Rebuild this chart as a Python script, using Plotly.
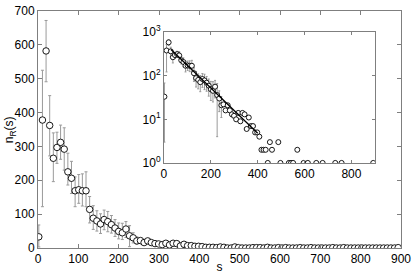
import plotly.graph_objects as go

s = [2, 11, 20, 29, 38, 47, 56, 65, 74, 83, 92, 101, 110, 119, 128, 137, 146, 155, 164, 173,
     182, 191, 200, 209, 218, 227, 236, 245, 254, 263, 272, 281, 290, 299, 308, 317, 326, 335, 344, 353,
     362, 371, 380, 389, 398, 407, 416, 425, 434, 443, 452, 461, 470, 479, 488, 497, 506, 515, 524, 533,
     542, 551, 560, 569, 578, 587, 596, 605, 614, 623, 632, 641, 650, 659, 668, 677, 686, 695, 704, 713,
     722, 731, 740, 749, 758, 767, 776, 785, 794, 803, 812, 821, 830, 839, 848, 857, 866, 875, 884, 893]
n = [33, 378, 582, 362, 265, 297, 312, 292, 225, 206, 169, 172, 169, 169, 114, 88, 80, 71, 84, 78,
     69, 59, 49, 45, 56, 36, 30, 21, 22, 16, 21, 16, 13, 12, 10, 14, 9, 14, 13, 6,
     11, 7, 7, 5, 5, 4, 2, 2, 2, 1, 3, 2, 0, 0, 3, 1, 0, 0, 0, 1,
     1, 1, 0, 2, 0, 0, 1, 0, 1, 0, 0, 0, 1, 0, 0, 1, 0, 0, 0, 0,
     0, 1, 0, 0, 1, 0, 0, 0, 0, 0, 0, 0, 0, 0, 0, 0, 0, 0, 0, 1]
err_plus = [35, 147, 90, 88, 75, 45, 51, 63, 55, 50, 41, 45, 50, 56, 38, 37, 30, 30, 28, 30,
            27, 25, 25, 28, 22, 30, 15, 12] + [0] * 72
err_minus = [30, 256, 91, 90, 69, 47, 50, 62, 39, 45, 47, 40, 45, 47, 40, 33, 30, 28, 30, 30,
             25, 25, 22, 20, 25, 32, 15, 10] + [0] * 72
fit_s = [30, 400]
fit_n = [400, 4.8]

x_ticks = [0, 100, 200, 300, 400, 500, 600, 700, 800, 900]
y_ticks = [0, 100, 200, 300, 400, 500, 600, 700]
inset_x_ticks = [0, 200, 400, 600, 800]
inset_y_ticks = [1, 10, 100, 1000]
inset_y_text = ["10<sup>0</sup>", "10<sup>1</sup>", "10<sup>2</sup>", "10<sup>3</sup>"]

font = dict(family="Liberation Sans, Arial, sans-serif", size=12, color="black")
axcol = "#7f7f7f"
errcol = "#9a9a9a"
marker = dict(symbol="circle", size=6.5, color="white", line=dict(color="black", width=0.9))

fig = go.Figure()
fig.add_trace(go.Scatter(
    x=s, y=n, mode="markers", marker=marker,
    error_y=dict(type="data", symmetric=False, array=err_plus, arrayminus=err_minus,
                 color=errcol, thickness=1, width=1.5),
    xaxis="x", yaxis="y", showlegend=False))

pos = [i for i, v in enumerate(n) if v > 0]
fig.add_trace(go.Scatter(
    x=[s[i] for i in pos], y=[n[i] for i in pos], mode="markers", marker=dict(marker, size=5),
    error_y=dict(type="data", symmetric=False, array=[err_plus[i] for i in pos],
                 arrayminus=[err_minus[i] for i in pos], color=errcol, thickness=1, width=1),
    xaxis="x2", yaxis="y2", showlegend=False))
fig.add_trace(go.Scatter(
    x=fit_s, y=fit_n, mode="lines", line=dict(color="black", width=1.3),
    xaxis="x2", yaxis="y2", showlegend=False))

common = dict(showgrid=False, zeroline=False, showline=True, linecolor=axcol, linewidth=1,
              mirror="allticks", ticks="inside", ticklen=4, tickcolor=axcol, automargin=False)

fig.update_layout(
    width=415, height=274,
    margin=dict(l=38, r=14, t=11, b=26),
    paper_bgcolor="white", plot_bgcolor="white",
    font=font,
    xaxis=dict(common, range=[0, 900], tickvals=x_ticks,
               title=dict(text="s", standoff=0, font=dict(size=12))),
    yaxis=dict(common, range=[0, 700], tickvals=y_ticks),
    xaxis2=dict(common, domain=[0.347, 0.928], anchor="y2", range=[0, 900],
                tickvals=inset_x_ticks, ticklen=3),
    yaxis2=dict(common, domain=[0.359, 0.911], anchor="x2", type="log", range=[0, 3],
                tickvals=inset_y_ticks, ticktext=inset_y_text, ticklen=3),
    annotations=[dict(text="n<sub>R</sub>(s)", xref="paper", yref="paper", x=-0.078, y=0.5,
                      xanchor="center", yanchor="middle", textangle=-90, showarrow=False,
                      font=dict(size=12))],
)

fig.write_html("out.html", config={"displayModeBar": False},
               post_script="document.body.style.margin='0px';")
